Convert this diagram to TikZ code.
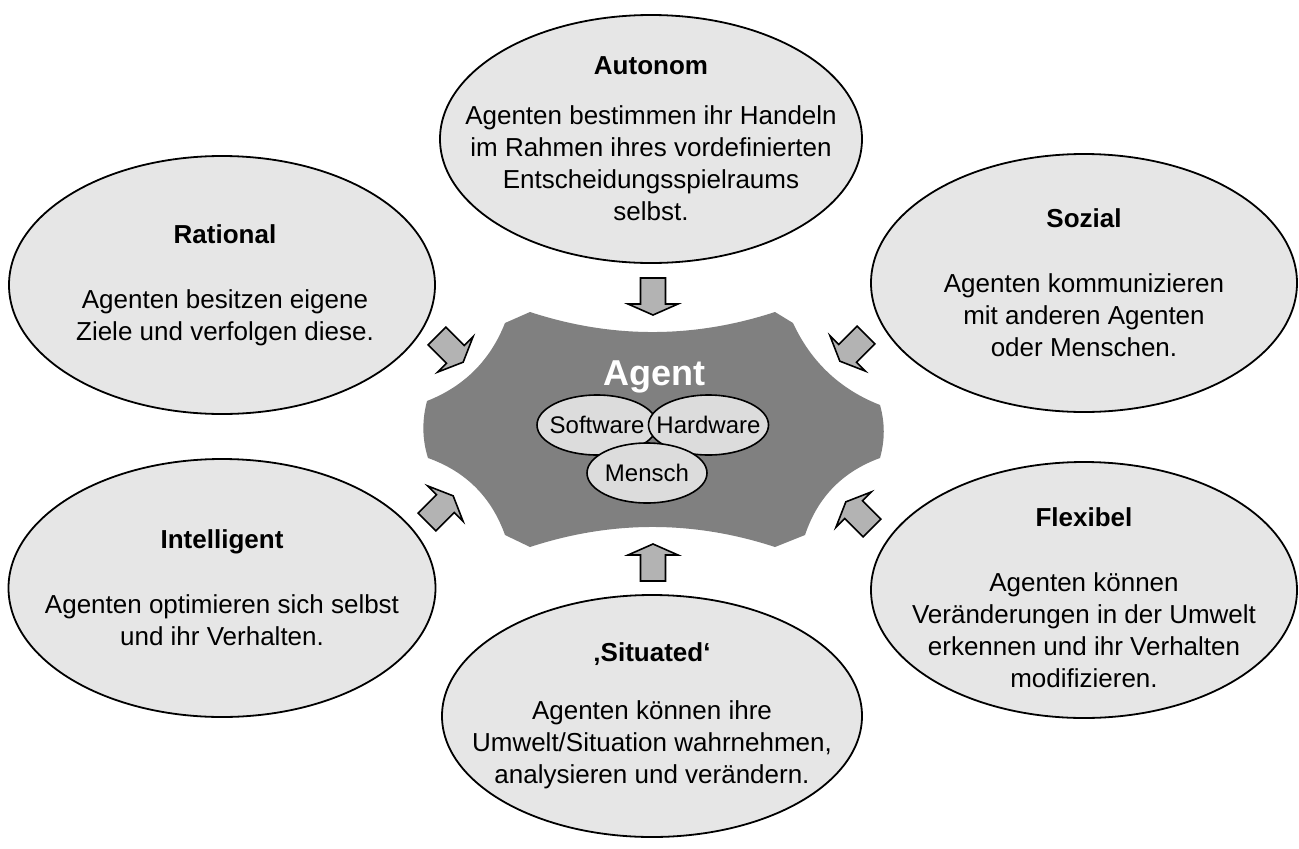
\documentclass[tikz,border=0pt]{standalone}
\usepackage{fontspec}
\setmainfont{Liberation Sans}
\usetikzlibrary{shapes.geometric}
\definecolor{ellfill}{HTML}{E6E6E6}
\definecolor{subfill}{HTML}{DCDCDC}
\definecolor{agentgray}{HTML}{808080}
\definecolor{arrowfill}{HTML}{B3B3B3}
\tikzset{
  prop/.style={ellipse, draw=black, line width=1.8pt, fill=ellfill, inner sep=0pt},
  proptext/.style={align=center, inner sep=0pt, font=\fontsize{26}{32}\selectfont},
  part/.style={ellipse, draw=black, line width=1.6pt, fill=subfill, inner sep=0pt,
    minimum width=120pt, minimum height=60pt, font=\fontsize{24}{28}\selectfont},
  blockarrow/.pic={
    \draw[line width=1.6pt, fill=arrowfill]
      (0,12.5) -- (26,12.5) -- (26,25) -- (37,0) -- (26,-25) -- (26,-12.5) -- (0,-12.5) -- cycle;
  }
}
\begin{document}
\begin{tikzpicture}[x=1pt,y=-1pt]
\fill[white] (0,0) rectangle (1299,849);
\useasboundingbox (0,0) rectangle (1299,849);

% property ellipses
\node[prop, minimum width=422pt, minimum height=248pt] (autonom) at (651,139) {};
\node[proptext] (autonomtext) at (autonom.center) {\textbf{Autonom}\\[18pt]Agenten bestimmen ihr Handeln\\im Rahmen ihres vordefinierten\\Entscheidungsspielraums\\selbst.};

\node[prop, minimum width=426pt, minimum height=258pt] (rational) at (222,285) {};
\node[proptext] (rationaltext) at (225,285) {\textbf{Rational}\\[33pt]Agenten besitzen eigene\\Ziele und verfolgen diese.};

\node[prop, minimum width=426pt, minimum height=258pt] (sozial) at (1084,283) {};
\node[proptext] (sozialtext) at (sozial.center) {\textbf{Sozial}\\[33pt]Agenten kommunizieren\\mit anderen Agenten\\oder Menschen.};

\node[prop, minimum width=427pt, minimum height=258pt] (intelligent) at (222,588) {};
\node[proptext] (intelligenttext) at (intelligent.center) {\textbf{Intelligent}\\[33pt]Agenten optimieren sich selbst\\und ihr Verhalten.};

\node[prop, minimum width=426pt, minimum height=256pt] (flexibel) at (1084,590) {};
\node[proptext] (flexibeltext) at (1084,598) {\textbf{Flexibel}\\[33pt]Agenten können\\Veränderungen in der Umwelt\\erkennen und ihr Verhalten\\modifizieren.};

\node[prop, minimum width=420pt, minimum height=242pt] (situated) at (652,716) {};
\node[proptext] (situatedtext) at (situated.center) {\textbf{‚Situated‘}\\[26pt]Agenten können ihre\\Umwelt/Situation wahrnehmen,\\analysieren und verändern.};

% central agent body with concave sides
\fill[agentgray] (530,312) .. controls (611.7,338.7) and (693.3,338.7) .. (775,312)
  -- (793,323) .. controls (811,361.9) and (840,389.3) .. (880,405)
  .. controls (885,423) and (885,440) .. (880,458)
  .. controls (842.6,471.6) and (817.6,497.2) .. (805,535)
  -- (775,547) .. controls (693.3,520.3) and (611.7,520.3) .. (530,547)
  -- (505,535) .. controls (491.5,497.1) and (465.9,471.5) .. (428,458)
  .. controls (422,439) and (422,420) .. (427,401)
  .. controls (464.3,386.3) and (490.3,360.3) .. (505,323) -- cycle;

\node[text=white, inner sep=0pt, font=\bfseries\fontsize{36}{40}\selectfont] (agent) at (654,377) {Agent};

\node[part] (software) at (597,425) {\makebox[0pt]{Software}};
\node[part] (hardware) at (708.5,425) {\makebox[0pt]{Hardware}};
\node[part] (mensch) at (647,473) {\makebox[0pt]{Mensch}};

% block arrows pointing at the agent
\pic[rotate=-90] at (653,278) {blockarrow};
\pic[rotate=90] at (653,581) {blockarrow};
\pic[rotate=-45] at (437,336) {blockarrow};
\pic[rotate=-135] at (866,335) {blockarrow};
\pic[rotate=45] at (427,522) {blockarrow};
\pic[rotate=135] at (872,528) {blockarrow};
\end{tikzpicture}
\end{document}
